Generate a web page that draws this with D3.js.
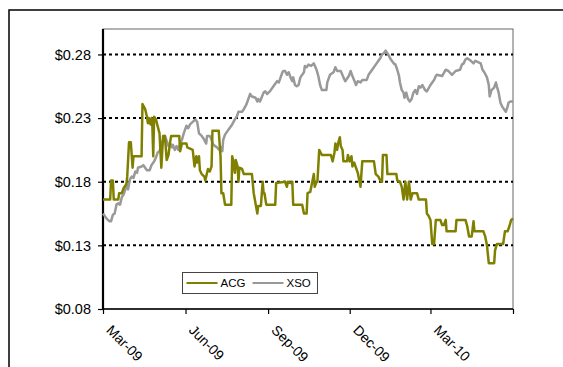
<!DOCTYPE html>
<html>
<head>
<meta charset="utf-8">
<script src="https://cdn.jsdelivr.net/npm/d3@7"></script>
<style>
  body { margin: 0; background: #fff; }
  svg { display: block; font-family: "Liberation Sans", Arial, sans-serif; }
</style>
</head>
<body>
<div id="chart"></div>
<script>
// ACG and XSO share price, Mar-09 to Jun-10
const acg = [
["2009-03-01",0.166],["2009-03-09",0.166],["2009-03-10",0.181],["2009-03-12",0.181],["2009-03-13",0.166],
["2009-03-18",0.166],["2009-03-19",0.171],["2009-03-22",0.171],["2009-03-24",0.175],["2009-03-27",0.178],
["2009-03-28",0.184],["2009-03-30",0.211],["2009-04-01",0.211],["2009-04-03",0.191],["2009-04-04",0.200],
["2009-04-13",0.200],["2009-04-14",0.241],["2009-04-17",0.237],["2009-04-19",0.231],["2009-04-20",0.226],
["2009-04-21",0.230],["2009-04-23",0.225],["2009-04-24",0.230],["2009-04-25",0.224],["2009-04-26",0.200],
["2009-04-27",0.231],["2009-04-29",0.229],["2009-05-03",0.218],["2009-05-05",0.191],["2009-05-07",0.216],
["2009-05-09",0.216],["2009-05-11",0.197],["2009-05-13",0.201],["2009-05-15",0.212],["2009-05-16",0.216],
["2009-05-25",0.216],["2009-05-26",0.204],["2009-05-28",0.210],["2009-06-02",0.210],["2009-06-03",0.207],
["2009-06-09",0.205],["2009-06-11",0.192],["2009-06-13",0.200],["2009-06-14",0.195],["2009-06-16",0.200],
["2009-06-17",0.189],["2009-06-19",0.186],["2009-06-22",0.184],["2009-06-23",0.181],["2009-06-26",0.190],
["2009-06-28",0.188],["2009-06-30",0.192],["2009-07-01",0.220],["2009-07-08",0.220],["2009-07-10",0.200],
["2009-07-11",0.171],["2009-07-13",0.171],["2009-07-15",0.162],["2009-07-22",0.162],["2009-07-23",0.200],
["2009-07-24",0.197],["2009-07-26",0.187],["2009-07-27",0.197],["2009-07-29",0.192],["2009-07-30",0.180],
["2009-07-31",0.191],["2009-08-03",0.190],["2009-08-05",0.186],["2009-08-14",0.186],["2009-08-16",0.171],
["2009-08-18",0.163],["2009-08-20",0.155],["2009-08-21",0.161],["2009-08-24",0.161],["2009-08-26",0.180],
["2009-08-27",0.171],["2009-08-28",0.171],["2009-08-30",0.162],["2009-09-09",0.162],["2009-09-10",0.179],
["2009-09-20",0.180],["2009-09-22",0.176],["2009-09-23",0.180],["2009-09-26",0.179],["2009-09-28",0.180],
["2009-09-29",0.162],["2009-10-09",0.162],["2009-10-11",0.155],["2009-10-14",0.155],["2009-10-15",0.171],
["2009-10-18",0.172],["2009-10-20",0.179],["2009-10-22",0.186],["2009-10-23",0.176],["2009-10-25",0.180],
["2009-10-26",0.180],["2009-10-28",0.205],["2009-10-31",0.201],["2009-11-10",0.201],["2009-11-12",0.196],
["2009-11-14",0.203],["2009-11-15",0.210],["2009-11-17",0.205],["2009-11-18",0.210],["2009-11-20",0.215],
["2009-11-21",0.208],["2009-11-23",0.205],["2009-11-24",0.196],["2009-11-28",0.196],["2009-11-29",0.201],
["2009-12-01",0.196],["2009-12-03",0.200],["2009-12-04",0.192],["2009-12-06",0.195],["2009-12-08",0.191],
["2009-12-10",0.187],["2009-12-13",0.176],["2009-12-15",0.196],["2009-12-28",0.196],["2009-12-30",0.186],
["2010-01-02",0.184],["2010-01-04",0.181],["2010-01-06",0.180],["2010-01-07",0.201],["2010-01-11",0.201],
["2010-01-12",0.186],["2010-01-22",0.186],["2010-01-23",0.181],["2010-01-26",0.180],["2010-01-28",0.176],
["2010-01-30",0.166],["2010-02-01",0.180],["2010-02-03",0.166],["2010-02-05",0.180],["2010-02-07",0.166],
["2010-02-09",0.171],["2010-02-14",0.171],["2010-02-16",0.166],["2010-02-24",0.166],["2010-02-25",0.155],
["2010-02-27",0.153],["2010-03-01",0.150],["2010-03-03",0.131],["2010-03-05",0.131],["2010-03-07",0.150],
["2010-03-12",0.150],["2010-03-14",0.146],["2010-03-16",0.146],["2010-03-18",0.150],["2010-03-19",0.141],
["2010-03-29",0.141],["2010-03-30",0.150],["2010-04-09",0.150],["2010-04-11",0.145],["2010-04-13",0.137],
["2010-04-16",0.137],["2010-04-18",0.149],["2010-04-19",0.141],["2010-04-29",0.141],["2010-05-01",0.137],
["2010-05-03",0.130],["2010-05-05",0.116],["2010-05-11",0.116],["2010-05-12",0.126],["2010-05-14",0.131],
["2010-05-21",0.131],["2010-05-23",0.141],["2010-05-26",0.141],["2010-05-28",0.145],["2010-05-30",0.150],
["2010-06-01",0.151]
];

const xso = [
["2009-03-01",0.155],["2009-03-05",0.151],["2009-03-08",0.149],["2009-03-10",0.149],["2009-03-12",0.154],
["2009-03-14",0.155],["2009-03-16",0.162],["2009-03-18",0.163],["2009-03-20",0.162],["2009-03-22",0.168],
["2009-03-24",0.170],["2009-03-26",0.174],["2009-03-27",0.178],["2009-03-29",0.174],["2009-03-31",0.182],
["2009-04-02",0.184],["2009-04-04",0.183],["2009-04-06",0.188],["2009-04-08",0.187],["2009-04-09",0.191],
["2009-04-13",0.192],["2009-04-15",0.193],["2009-04-19",0.189],["2009-04-22",0.189],["2009-04-24",0.193],
["2009-04-27",0.196],["2009-04-29",0.199],["2009-05-01",0.203],["2009-05-03",0.204],["2009-05-05",0.209],
["2009-05-07",0.213],["2009-05-09",0.216],["2009-05-11",0.212],["2009-05-13",0.208],["2009-05-15",0.210],
["2009-05-17",0.207],["2009-05-18",0.209],["2009-05-20",0.205],["2009-05-22",0.208],["2009-05-24",0.205],
["2009-05-26",0.210],["2009-05-28",0.213],["2009-05-30",0.218],["2009-05-31",0.220],["2009-06-02",0.224],
["2009-06-04",0.222],["2009-06-06",0.225],["2009-06-09",0.227],["2009-06-12",0.229],["2009-06-14",0.227],
["2009-06-16",0.218],["2009-06-19",0.216],["2009-06-21",0.214],["2009-06-24",0.210],["2009-06-25",0.216],
["2009-06-28",0.216],["2009-06-30",0.213],["2009-07-02",0.209],["2009-07-06",0.207],["2009-07-10",0.204],
["2009-07-11",0.207],["2009-07-12",0.204],["2009-07-13",0.213],["2009-07-15",0.217],["2009-07-19",0.221],
["2009-07-23",0.225],["2009-07-26",0.229],["2009-07-28",0.231],["2009-07-30",0.235],["2009-08-03",0.235],
["2009-08-05",0.237],["2009-08-08",0.241],["2009-08-10",0.245],["2009-08-12",0.249],["2009-08-14",0.247],
["2009-08-18",0.246],["2009-08-20",0.243],["2009-08-21",0.245],["2009-08-23",0.243],["2009-08-27",0.250],
["2009-08-29",0.251],["2009-08-31",0.249],["2009-09-03",0.251],["2009-09-07",0.255],["2009-09-11",0.259],
["2009-09-13",0.258],["2009-09-15",0.262],["2009-09-17",0.266],["2009-09-18",0.267],["2009-09-20",0.267],
["2009-09-22",0.264],["2009-09-24",0.266],["2009-09-26",0.262],["2009-09-28",0.259],["2009-09-29",0.262],
["2009-10-01",0.256],["2009-10-03",0.255],["2009-10-05",0.256],["2009-10-07",0.262],["2009-10-11",0.266],
["2009-10-12",0.271],["2009-10-14",0.270],["2009-10-16",0.272],["2009-10-19",0.271],["2009-10-22",0.273],
["2009-10-25",0.268],["2009-10-27",0.263],["2009-10-29",0.256],["2009-10-31",0.252],["2009-11-05",0.252],
["2009-11-06",0.258],["2009-11-09",0.264],["2009-11-13",0.266],["2009-11-15",0.270],["2009-11-17",0.267],
["2009-11-21",0.267],["2009-11-24",0.262],["2009-11-26",0.259],["2009-11-30",0.263],["2009-12-02",0.267],
["2009-12-04",0.263],["2009-12-07",0.258],["2009-12-08",0.256],["2009-12-10",0.259],["2009-12-13",0.258],
["2009-12-15",0.260],["2009-12-20",0.260],["2009-12-22",0.264],["2009-12-26",0.268],["2009-12-30",0.272],
["2010-01-02",0.275],["2010-01-04",0.277],["2010-01-06",0.280],["2010-01-08",0.281],["2010-01-10",0.283],
["2010-01-12",0.281],["2010-01-13",0.280],["2010-01-15",0.277],["2010-01-19",0.273],["2010-01-21",0.272],
["2010-01-23",0.268],["2010-01-25",0.263],["2010-01-26",0.258],["2010-01-28",0.252],["2010-01-30",0.250],
["2010-01-31",0.246],["2010-02-02",0.250],["2010-02-04",0.245],["2010-02-06",0.243],["2010-02-08",0.245],
["2010-02-10",0.250],["2010-02-12",0.252],["2010-02-14",0.249],["2010-02-16",0.255],["2010-02-18",0.254],
["2010-02-20",0.256],["2010-02-23",0.252],["2010-02-25",0.251],["2010-03-01",0.256],["2010-03-05",0.260],
["2010-03-07",0.263],["2010-03-08",0.264],["2010-03-14",0.263],["2010-03-18",0.268],["2010-03-21",0.267],
["2010-03-25",0.264],["2010-03-29",0.267],["2010-04-03",0.268],["2010-04-05",0.272],["2010-04-07",0.273],
["2010-04-09",0.276],["2010-04-11",0.277],["2010-04-15",0.275],["2010-04-18",0.273],["2010-04-20",0.275],
["2010-04-26",0.273],["2010-04-28",0.268],["2010-04-30",0.266],["2010-05-03",0.262],["2010-05-05",0.256],
["2010-05-06",0.247],["2010-05-08",0.252],["2010-05-11",0.254],["2010-05-13",0.258],["2010-05-14",0.255],
["2010-05-16",0.250],["2010-05-18",0.242],["2010-05-20",0.239],["2010-05-22",0.237],["2010-05-24",0.235],
["2010-05-26",0.239],["2010-05-27",0.242],["2010-05-29",0.243],["2010-06-01",0.243]
];

const seriesNames = ["ACG", "XSO"];
const yTicks = [0.08, 0.13, 0.18, 0.23, 0.28];
const xTicks = ["2009-03-01", "2009-06-01", "2009-09-01", "2009-12-01", "2010-03-01", "2010-06-01"];
const xTickLabels = ["Mar-09", "Jun-09", "Sep-09", "Dec-09", "Mar-10", ""];
const dateRange = ["2009-03-01", "2010-06-01"];
const priceRange = [0.08, 0.30];

//====================SETUP===================

const W = 563, H = 367;
const margin = {top: 29, right: 50, bottom: 58, left: 103};
const colors = {ACG: "#808000", XSO: "#999999"};

const parse = d3.utcParse("%Y-%m-%d");

const svg = d3.select("#chart").append("svg")
.attr("width", W)
.attr("height", H)

// outer chart frame (runs off the right and bottom edges)
svg.append("rect")
.attr("x", 9).attr("y", 10)
.attr("width", 700).attr("height", 700)
.attr("fill", "none")
.attr("stroke", "#000")
.attr("stroke-width", 1.5)

const x = d3.scaleUtc()
.domain(dateRange.map(parse))
.range([margin.left, W - margin.right])

const y = d3.scaleLinear()
.domain(priceRange)
.range([H - margin.bottom, margin.top])

// plot area border
svg.append("rect")
.attr("x", x.range()[0]).attr("y", y.range()[1])
.attr("width", x.range()[1] - x.range()[0])
.attr("height", y.range()[0] - y.range()[1])
.attr("fill", "none")
.attr("stroke", "#666")
.attr("stroke-width", 1)

// dotted gridlines
svg.append("g")
.selectAll("line")
.data(yTicks.slice(1))
.enter()
.append("line")
.attr("x1", x.range()[0]).attr("x2", x.range()[1])
.attr("y1", d => y(d)).attr("y2", d => y(d))
.attr("stroke", "#000")
.attr("stroke-width", 2)
.attr("stroke-dasharray", "3,3")

//====================AXES===================

const yAxis = svg.append("g")
.attr("transform", `translate(${x.range()[0]},0)`)
.call(d3.axisLeft(y).tickValues(yTicks).tickSize(5).tickFormat(d => "$" + d.toFixed(2)))

yAxis.select(".domain").remove()
yAxis.selectAll(".tick line").attr("stroke", "#000").attr("stroke-width", 1.2)
yAxis.selectAll(".tick text")
.attr("x", -12)
.attr("font-size", 14.5)
.attr("font-family", "Liberation Sans, Arial, sans-serif")
.attr("fill", "#000")

const xAxis = svg.append("g")
.attr("transform", `translate(0,${y.range()[0]})`)
.call(d3.axisBottom(x).tickValues(xTicks.map(parse)).tickSize(5).tickFormat((d, i) => xTickLabels[i]))

xAxis.select(".domain").remove()
xAxis.selectAll(".tick line").attr("stroke", "#000").attr("stroke-width", 1.2)
xAxis.selectAll(".tick text")
.attr("y", 0).attr("dy", 0)
.attr("text-anchor", "start")
.attr("transform", "translate(2,22) rotate(45)")
.attr("font-size", 14)
.attr("font-family", "Liberation Sans, Arial, sans-serif")
.attr("fill", "#000")

// axis lines
svg.append("line")
.attr("x1", x.range()[0]).attr("x2", x.range()[0])
.attr("y1", y.range()[1]).attr("y2", y.range()[0] + 1)
.attr("stroke", "#000").attr("stroke-width", 2.2)

svg.append("line")
.attr("x1", x.range()[0]).attr("x2", x.range()[1])
.attr("y1", y.range()[0]).attr("y2", y.range()[0])
.attr("stroke", "#000").attr("stroke-width", 1.5)

//====================LINES===================

const line = d3.line()
.x(d => x(parse(d[0])))
.y(d => y(d[1]))

svg.append("path")
.datum(xso)
.attr("d", line)
.attr("fill", "none")
.attr("stroke", colors.XSO)
.attr("stroke-width", 2.5)
.attr("stroke-linejoin", "round")

svg.append("path")
.datum(acg)
.attr("d", line)
.attr("fill", "none")
.attr("stroke", colors.ACG)
.attr("stroke-width", 2.5)
.attr("stroke-linejoin", "round")

//====================LEGEND===================

const legend = svg.append("g").attr("transform", "translate(182.5,272.5)")

legend.append("rect")
.attr("width", 135).attr("height", 21)
.attr("fill", "#fff")
.attr("stroke", "#444")
.attr("stroke-width", 1)

const legendItems = [{name: seriesNames[0], lx: 4, tx: 38}, {name: seriesNames[1], lx: 70, tx: 104}]

legendItems.map(item => {
	legend.append("line")
	.attr("x1", item.lx).attr("x2", item.lx + 31)
	.attr("y1", 10.5).attr("y2", 10.5)
	.attr("stroke", colors[item.name])
	.attr("stroke-width", 2)

	legend.append("text")
	.attr("x", item.tx).attr("y", 10.5)
	.attr("dy", "0.35em")
	.attr("font-size", 11.5)
	.text(item.name)
})
</script>
</body>
</html>
